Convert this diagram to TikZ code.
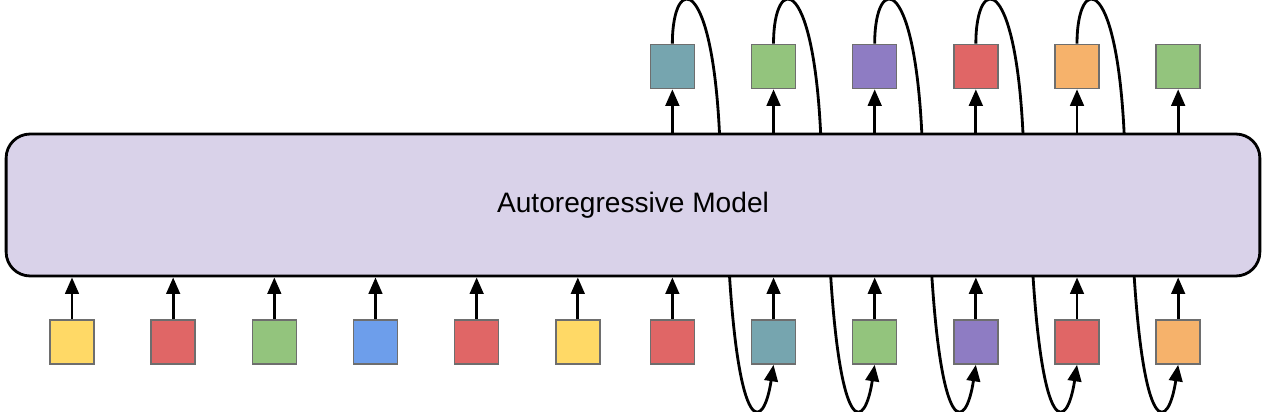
\documentclass[tikz,border=0pt]{standalone}
\usepackage{fontspec}
\setmainfont{Liberation Sans}
\usepackage{xcolor}
\usetikzlibrary{positioning, arrows.meta, backgrounds}

\definecolor{tokyellow}{HTML}{FFD966}
\definecolor{tokred}{HTML}{E06666}
\definecolor{tokgreen}{HTML}{93C47D}
\definecolor{tokblue}{HTML}{6D9EEB}
\definecolor{tokpurple}{HTML}{8E7CC3}
\definecolor{tokorange}{HTML}{F6B26B}
\definecolor{tokteal}{HTML}{76A5AF}
\definecolor{modelfill}{HTML}{D9D2E9}
\definecolor{tokedge}{HTML}{6E6E6E}

\begin{document}
\begin{tikzpicture}[
    x=0.02cm, y=-0.02cm, % one unit = one pixel of the layout, y downwards
    % --- STYLES ---
    model_block/.style={draw=black, line width=1.6pt, fill=modelfill, rounded corners=4.8mm,
        minimum width=25.08cm, minimum height=2.84cm,
        font=\fontsize{16}{19}\selectfont},
    token/.style={
        draw=tokedge, line width=0.9pt,
        minimum size=8.8mm, % square token
        inner sep=0pt
    },
    arrow_style/.style={line width=1.6pt, -{Triangle[length=3.3mm, width=2.7mm]}}, % Arrow style
    feed_style/.style={line width=1.6pt, -{Triangle[length=3.3mm, width=2.7mm]}} % Output fed back as input
]
\useasboundingbox (0,0) rectangle (1269,412);

% --- MODEL ---
\node[model_block] (model) at (633,205) {Autoregressive Model};

% --- INPUT TOKENS (bottom row) ---
\node[token, fill=tokyellow] (in1) at (72,342) {};
\node[token, fill=tokred, right=11.12mm of in1] (in2) {};
\node[token, fill=tokgreen, right=11.12mm of in2] (in3) {};
\node[token, fill=tokblue, right=11.12mm of in3] (in4) {};
\node[token, fill=tokred, right=11.12mm of in4] (in5) {};
\node[token, fill=tokyellow, right=11.12mm of in5] (in6) {};
\node[token, fill=tokred, right=9.8mm of in6] (in7) {};
\node[token, fill=tokteal, right=11.12mm of in7] (in8) {};
\node[token, fill=tokgreen, right=11.12mm of in8] (in9) {};
\node[token, fill=tokpurple, right=11.12mm of in9] (in10) {};
\node[token, fill=tokred, right=11.12mm of in10] (in11) {};
\node[token, fill=tokorange, right=11.12mm of in11] (in12) {};

% --- OUTPUT TOKENS (top row) ---
\node[token, fill=tokteal, above=46mm of in7] (out1) {};
\node[token, fill=tokgreen, above=46mm of in8] (out2) {};
\node[token, fill=tokpurple, above=46mm of in9] (out3) {};
\node[token, fill=tokred, above=46mm of in10] (out4) {};
\node[token, fill=tokorange, above=46mm of in11] (out5) {};
\node[token, fill=tokgreen, above=46mm of in12] (out6) {};

% --- ARROWS ---
% Inputs into the model
\draw[arrow_style] (in1) -- (in1 |- model.south);
\draw[arrow_style] (in2) -- (in2 |- model.south);
\draw[arrow_style] (in3) -- (in3 |- model.south);
\draw[arrow_style] (in4) -- (in4 |- model.south);
\draw[arrow_style] (in5) -- (in5 |- model.south);
\draw[arrow_style] (in6) -- (in6 |- model.south);
\draw[arrow_style] (in7) -- (in7 |- model.south);
\draw[arrow_style] (in8) -- (in8 |- model.south);
\draw[arrow_style] (in9) -- (in9 |- model.south);
\draw[arrow_style] (in10) -- (in10 |- model.south);
\draw[arrow_style] (in11) -- (in11 |- model.south);
\draw[arrow_style] (in12) -- (in12 |- model.south);
% Model to outputs
\draw[arrow_style] (out1 |- model.north) -- (out1);
\draw[arrow_style] (out2 |- model.north) -- (out2);
\draw[arrow_style] (out3 |- model.north) -- (out3);
\draw[arrow_style] (out4 |- model.north) -- (out4);
\draw[arrow_style] (out5 |- model.north) -- (out5);
\draw[arrow_style] (out6 |- model.north) -- (out6);

% Each output loops round behind the model into the next input
\begin{scope}[on background layer]
\draw[feed_style] (out1.north) .. controls +(0,-72) and +(-5,-185) .. ++(48,113) -- ++(8,100) .. controls +(10,185) and +(-10,66) .. (in8.south);
\draw[feed_style] (out2.north) .. controls +(0,-72) and +(-5,-185) .. ++(48,113) -- ++(8,100) .. controls +(10,185) and +(-10,66) .. (in9.south);
\draw[feed_style] (out3.north) .. controls +(0,-72) and +(-5,-185) .. ++(48,113) -- ++(8,100) .. controls +(10,185) and +(-10,66) .. (in10.south);
\draw[feed_style] (out4.north) .. controls +(0,-72) and +(-5,-185) .. ++(48,113) -- ++(8,100) .. controls +(10,185) and +(-10,66) .. (in11.south);
\draw[feed_style] (out5.north) .. controls +(0,-72) and +(-5,-185) .. ++(48,113) -- ++(8,100) .. controls +(10,185) and +(-10,66) .. (in12.south);
% out6 is not fed back
\end{scope}

\end{tikzpicture}
\end{document}
